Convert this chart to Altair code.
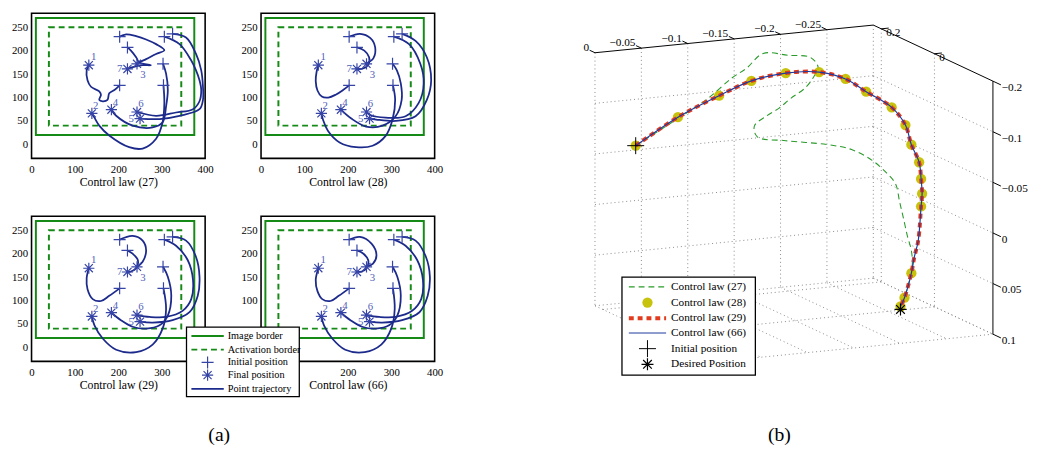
import altair as alt
import pandas as pd

FONT = "Liberation Serif"
GREEN = "#168a16"
NAVY = "#1c2a8c"
MARK_BLUE = "#3544a6"
LABEL_BLUE = "#5262b8"

# ===================== (a) image-plane trajectories =====================
IMAGE_BORDER_X = [10, 375]
IMAGE_BORDER_Y = [20, 270]
ACTIVATION_BORDER_X = [40, 345]
ACTIVATION_BORDER_Y = [40, 250]

POINT_LABELS = ["1", "2", "3", "4", "5", "6", "7"]
INITIAL_X = [203, 304, 203, 303, 325, 306, 221]
INITIAL_Y = [126, 126, 230, 172, 236, 230, 207]
FINAL_X = [132, 139, 243, 184, 250, 243, 221]
FINAL_Y = [169, 66, 172, 74, 55, 69, 161]

A_X_TICKS = [0, 100, 200, 300, 400]
A_Y_TICKS = [0, 50, 100, 150, 200, 250]
# in panel (66) the legend box hides the lowest tick labels
A_X_TICKS_66 = [200, 300, 400]
A_Y_TICKS_66 = [100, 150, 200, 250]

LAW27_X = [
    [203, 191, 179, 175, 164, 156, 160, 156, 137, 129, 127, 132],
    [304, 306, 302, 287, 256, 225, 179, 156, 145, 139],
    [203, 218, 241, 264, 287, 306, 287, 264, 248, 243],
    [303, 310, 314, 310, 302, 279, 233, 195, 184],
    [325, 356, 379, 391, 395, 395, 387, 341, 295, 250],
    [306, 341, 368, 379, 387, 391, 387, 372, 333, 287, 243],
    [221, 229, 241, 248, 275, 256, 233, 221],
]
LAW27_Y = [
    [126, 116, 109, 95, 92, 95, 106, 113, 123, 137, 158, 169],
    [126, 88, 47, 12, -9, -6, 19, 40, 57, 66],
    [230, 235, 231, 224, 214, 201, 193, 182, 175, 172],
    [172, 151, 116, 81, 47, 36, 40, 61, 74],
    [236, 228, 193, 158, 123, 95, 75, 61, 54, 55],
    [230, 214, 179, 158, 137, 116, 92, 75, 68, 61, 69],
    [207, 200, 186, 175, 169, 169, 165, 161],
]
LAW28_X = [
    [203, 189, 172, 155, 140, 130, 126, 128, 132],
    [304, 309, 303, 287, 257, 219, 181, 154, 143, 139],
    [203, 228, 252, 263, 259, 243],
    [303, 313, 322, 324, 310, 280, 242, 208, 184],
    [325, 356, 382, 392, 382, 356, 310, 265, 250],
    [306, 341, 367, 375, 363, 333, 287, 253, 243],
    [221, 238, 249, 247, 235, 221],
]
LAW28_Y = [
    [126, 116, 106, 100, 102, 115, 135, 155, 169],
    [126, 95, 53, 18, -3, -6, 4, 29, 52, 66],
    [230, 236, 227, 207, 184, 172],
    [172, 158, 130, 95, 60, 40, 38, 55, 74],
    [236, 221, 186, 137, 95, 60, 50, 53, 55],
    [230, 214, 172, 130, 88, 60, 57, 62, 69],
    [207, 200, 186, 170, 162, 161],
]
LAW29_X = [
    [203, 179, 160, 141, 129, 127, 132],
    [304, 310, 302, 279, 241, 195, 164, 145, 139],
    [203, 233, 256, 264, 256, 243],
    [303, 314, 322, 314, 295, 264, 233, 206, 184],
    [325, 356, 379, 387, 383, 364, 325, 279, 250],
    [306, 333, 360, 372, 368, 348, 310, 272, 243],
    [221, 233, 245, 241, 229, 221],
]
LAW29_Y = [
    [126, 110, 99, 103, 124, 148, 169],
    [126, 82, 40, 6, -10, -5, 19, 47, 66],
    [230, 238, 228, 207, 183, 172],
    [172, 151, 110, 68, 47, 40, 44, 58, 74],
    [236, 228, 193, 151, 110, 75, 58, 53, 55],
    [230, 217, 186, 144, 103, 78, 65, 65, 69],
    [207, 200, 186, 169, 162, 161],
]
LAW66_X = [
    [203, 179, 160, 141, 130, 126, 132],
    [304, 308, 300, 277, 239, 194, 164, 145, 139],
    [203, 228, 255, 266, 258, 243],
    [303, 314, 322, 314, 295, 264, 233, 206, 184],
    [325, 356, 380, 389, 384, 365, 325, 279, 250],
    [306, 333, 360, 373, 369, 348, 310, 272, 243],
    [221, 236, 247, 243, 232, 221],
]
LAW66_Y = [
    [126, 110, 99, 103, 120, 144, 169],
    [126, 82, 40, 6, -10, -5, 19, 47, 66],
    [230, 236, 221, 197, 179, 172],
    [172, 151, 110, 68, 47, 40, 44, 58, 74],
    [236, 228, 193, 151, 110, 75, 58, 53, 55],
    [230, 217, 186, 144, 103, 78, 65, 65, 69],
    [207, 200, 186, 169, 162, 161],
]

LEGEND_A_LABELS = ["Image border", "Activation border", "Initial position",
                   "Final position", "Point trajectory"]

# ===================== (b) 3-D camera trajectories =====================
B_XLIM = [-0.3, 0.0]
B_YLIM = [-0.22, 0.23]
B_ZLIM = [-0.15, 0.1]
B_X_TICKS = [0, -0.05, -0.1, -0.15, -0.2, -0.25]
B_X_LABELS = ["0", "\u22120.05", "\u22120.1", "\u22120.15", "\u22120.2", "\u22120.25"]
B_Y_TICKS = [0.2, 0]
B_Y_LABELS = ["0.2", "0"]
B_Z_TICKS = [-0.15, -0.1, -0.05, 0, 0.05, 0.1]
B_Z_LABELS = ["\u22120.2", "\u22120.1", "\u22120.05", "0", "0.05", "0.1"]
B_X_GRID = [0, -0.05, -0.1, -0.15, -0.2, -0.25, -0.3]
B_Y_GRID = [0.2, 0]
B_Z_GRID = [-0.1, -0.05, 0, 0.05, 0.1]

PATH_DEPTH = 0.0  # y of the recorded trajectories
LAW27_PX = [0.0220, -0.0076, -0.0372, -0.0584, -0.0816, -0.0975, -0.1154, -0.1429,
            -0.1662, -0.1746, -0.1704, -0.1609, -0.1450, -0.1323, -0.1186, -0.1059,
            -0.1091, -0.1397, -0.1852, -0.2106, -0.2328, -0.2486, -0.2581, -0.2624,
            -0.2666, -0.2708, -0.2751, -0.2761, -0.2719, -0.2666, -0.2634]
LAW27_PZ = [-0.0885, -0.1033, -0.1180, -0.1297, -0.1459, -0.1542, -0.1671, -0.1627,
            -0.1586, -0.1482, -0.1398, -0.1291, -0.1199, -0.1113, -0.1048, -0.0962,
            -0.0853, -0.0787, -0.0706, -0.0635, -0.0508, -0.0367, -0.0252, -0.0074,
            0.0095, 0.0273, 0.0422, 0.0569, 0.0759, 0.0899, 0.0993]
LAW66_PX = [0.0220, -0.0235, -0.0679, -0.1027, -0.1397, -0.1757, -0.2042, -0.2264,
            -0.2539, -0.2687, -0.2751, -0.2835, -0.2856, -0.2867, -0.2856, -0.2825,
            -0.2782, -0.2751, -0.2677, -0.2634]
LAW66_PZ = [-0.0885, -0.1125, -0.1297, -0.1411, -0.1455, -0.1432, -0.1338, -0.1192,
            -0.1012, -0.0824, -0.0624, -0.0443, -0.0276, -0.0130, -0.0005, 0.0332,
            0.0493, 0.0645, 0.0881, 0.0964]
LAW29_PX = LAW66_PX
LAW29_PZ = LAW66_PZ
LAW28_PX = [0.0220, -0.0235, -0.0679, -0.1027, -0.1397, -0.1757, -0.2042, -0.2264,
            -0.2539, -0.2687, -0.2751, -0.2835, -0.2856, -0.2867, -0.2856, -0.2751,
            -0.2677, -0.2634]
LAW28_PZ = [-0.0885, -0.1125, -0.1297, -0.1411, -0.1455, -0.1432, -0.1338, -0.1192,
            -0.1012, -0.0824, -0.0624, -0.0443, -0.0276, -0.0130, -0.0005, 0.0645,
            0.0881, 0.0964]
START_XYZ = [0.0220, 0.0, -0.0885]
DESIRED_XYZ = [-0.2634, 0.0, 0.0993]

LEGEND_B_LABELS = ["Control law (27)", "Control law (28)", "Control law (29)",
                   "Control law (66)", "Initial position", "Desired Position"]

# camera used to draw the 3-D view (affine)
CAM_ORIGIN = (657.8, 232.3)
CAM_X = (-946.0, 94.0)
CAM_Y = (-271.0, -127.0)
CAM_Z = (0.0, 1032.0)

PLUS = "M-1,0L1,0M0,-1L0,1"
STAR = "M-1,0L1,0M0,-1L0,1M-0.72,-0.72L0.72,0.72M-0.72,0.72L0.72,-0.72"

# ---------------------------------------------------------------------------
PW, PH = 177, 148
X_DOM, Y_DOM = [0, 400], [-30, 280]
LABEL_DX = [5, 4, 6, 4, -9, 4, -8]
LABEL_DY = [-8, -8, 11, -7, 0, -8, 0]


def traj_frame(xs_list, ys_list):
    rows = []
    for k, (xs, ys) in enumerate(zip(xs_list, ys_list)):
        for i, (x, y) in enumerate(zip(xs, ys)):
            rows.append({"pt": k + 1, "i": i, "x": x, "y": y})
    return pd.DataFrame(rows)


def panel(law, xs_list, ys_list, xt, yt, legend=False):
    xsc = alt.Scale(domain=X_DOM, nice=False, zero=False)
    ysc = alt.Scale(domain=Y_DOM, nice=False, zero=False)
    xax = alt.Axis(values=xt, grid=False, ticks=False, domain=False,
                   labelFlush=False, labelOverlap=False, labelFont=FONT,
                   labelFontSize=11, labelColor="black", labelPadding=5,
                   title=f"Control law ({law})", titleFont=FONT, titleFontSize=12,
                   titleFontWeight="normal", titleColor="black", titlePadding=3)
    yax = alt.Axis(values=yt, grid=False, ticks=False, domain=False,
                   labelOverlap=False, labelFont=FONT, labelFontSize=11,
                   labelColor="black", labelPadding=4, title=None)

    def X(f):
        return alt.X(f, scale=xsc, axis=xax)

    def Y(f):
        return alt.Y(f, scale=ysc, axis=yax)

    img = pd.DataFrame({"x": [IMAGE_BORDER_X[0]], "x2": [IMAGE_BORDER_X[1]],
                        "y": [IMAGE_BORDER_Y[0]], "y2": [IMAGE_BORDER_Y[1]]})
    act = pd.DataFrame({"x": [ACTIVATION_BORDER_X[0]], "x2": [ACTIVATION_BORDER_X[1]],
                        "y": [ACTIVATION_BORDER_Y[0]], "y2": [ACTIVATION_BORDER_Y[1]]})
    layers = [
        alt.Chart(img).mark_rect(fillOpacity=0, stroke=GREEN, strokeWidth=2).encode(
            x=X("x:Q"), x2="x2:Q", y=Y("y:Q"), y2="y2:Q"),
        alt.Chart(act).mark_rect(fillOpacity=0, stroke=GREEN, strokeWidth=2,
                                 strokeDash=[6, 4]).encode(
            x=X("x:Q"), x2="x2:Q", y=Y("y:Q"), y2="y2:Q"),
        alt.Chart(traj_frame(xs_list, ys_list)).mark_line(
            interpolate="catmull-rom", color=NAVY, strokeWidth=1.8).encode(
            x=X("x:Q"), y=Y("y:Q"), detail="pt:N", order="i:Q"),
    ]
    pts = pd.DataFrame({"label": POINT_LABELS, "ix": INITIAL_X, "iy": INITIAL_Y,
                        "fx": FINAL_X, "fy": FINAL_Y})
    pts["lx"] = [fx + dx * (X_DOM[1] - X_DOM[0]) / PW for fx, dx in zip(FINAL_X, LABEL_DX)]
    pts["ly"] = [fy - dy * (Y_DOM[1] - Y_DOM[0]) / PH for fy, dy in zip(FINAL_Y, LABEL_DY)]
    layers += [
        alt.Chart(pts).mark_point(shape=PLUS, size=150, filled=False, color=MARK_BLUE,
                                  strokeWidth=1.2, opacity=1).encode(
            x=X("ix:Q"), y=Y("iy:Q")),
        alt.Chart(pts).mark_point(shape=STAR, size=130, filled=False, color=MARK_BLUE,
                                  strokeWidth=1.2, opacity=1).encode(
            x=X("fx:Q"), y=Y("fy:Q")),
        alt.Chart(pts).mark_text(font=FONT, fontSize=11, color=LABEL_BLUE).encode(
            x=X("lx:Q"), y=Y("ly:Q"), text="label:N"),
    ]
    if legend:
        one = pd.DataFrame({"k": [0]})
        ly = [122, 136, 149, 162, 176]
        lx0, lx1, lxm, ltx = -71, -38, -54.5, -34
        layers += [
            alt.Chart(one).mark_rect(fill="white", stroke="black", strokeWidth=1.3).encode(
                x=alt.value(-76), x2=alt.value(39), y=alt.value(113), y2=alt.value(184)),
            alt.Chart(one).mark_rule(color=GREEN, strokeWidth=2).encode(
                x=alt.value(lx0), x2=alt.value(lx1), y=alt.value(ly[0])),
            alt.Chart(one).mark_rule(color=GREEN, strokeWidth=2, strokeDash=[6, 4]).encode(
                x=alt.value(lx0), x2=alt.value(lx1), y=alt.value(ly[1])),
            alt.Chart(one).mark_point(shape=PLUS, size=150, filled=False, color=MARK_BLUE,
                                      strokeWidth=1.2, opacity=1).encode(
                x=alt.value(lxm), y=alt.value(ly[2])),
            alt.Chart(one).mark_point(shape=STAR, size=130, filled=False, color=MARK_BLUE,
                                      strokeWidth=1.2, opacity=1).encode(
                x=alt.value(lxm), y=alt.value(ly[3])),
            alt.Chart(one).mark_rule(color=NAVY, strokeWidth=2).encode(
                x=alt.value(lx0), x2=alt.value(lx1), y=alt.value(ly[4])),
        ]
        for lab, yy in zip(LEGEND_A_LABELS, ly):
            layers.append(alt.Chart(one).mark_text(
                font=FONT, fontSize=10.5, align="left", baseline="middle", color="black").encode(
                x=alt.value(ltx), y=alt.value(yy), text=alt.value(lab)))
    return alt.layer(*layers).properties(width=PW, height=PH)


p27 = panel("27", LAW27_X, LAW27_Y, A_X_TICKS, A_Y_TICKS)
p28 = panel("28", LAW28_X, LAW28_Y, A_X_TICKS, A_Y_TICKS)
p29 = panel("29", LAW29_X, LAW29_Y, A_X_TICKS, A_Y_TICKS)
p66 = panel("66", LAW66_X, LAW66_Y, A_X_TICKS_66, A_Y_TICKS_66, legend=True)

left = alt.concat(
    p27, p28, p29, p66, columns=2, spacing={"row": 59, "column": 57}, bounds="flush",
    title=alt.TitleParams("(a)", orient="bottom", anchor="middle", font=FONT, fontSize=20,
                          fontWeight="normal", color="black", offset=28, dx=-8),
)

# ------------------------------- 3-D view ---------------------------------
L3, T3, W3, H3 = 560, 8, 441, 400


def project(x, y, z):
    sx = CAM_ORIGIN[0] + CAM_X[0] * x + CAM_Y[0] * y + CAM_Z[0] * z
    sy = CAM_ORIGIN[1] + CAM_X[1] * x + CAM_Y[1] * y + CAM_Z[1] * z
    return sx - L3, sy - T3


XMIN, XMAX = B_XLIM
YMIN, YMAX = B_YLIM
ZMIN, ZMAX = B_ZLIM


def seg_frame(segs):
    rows = []
    for a, b in segs:
        u1, v1 = project(*a)
        u2, v2 = project(*b)
        rows.append({"u1": u1, "v1": v1, "u2": u2, "v2": v2})
    return pd.DataFrame(rows)


grid = []
for x in B_X_GRID:
    grid.append(((x, YMAX, ZMIN), (x, YMAX, ZMAX)))
    grid.append(((x, YMAX, ZMAX), (x, YMIN, ZMAX)))
for z in B_Z_GRID:
    grid.append(((XMAX, YMAX, z), (XMIN, YMAX, z)))
    grid.append(((XMIN, YMAX, z), (XMIN, YMIN, z)))
for y in B_Y_GRID:
    grid.append(((XMIN, y, ZMIN), (XMIN, y, ZMAX)))
for y in B_Y_GRID + [YMIN]:
    grid.append(((XMAX, y, ZMAX), (XMIN, y, ZMAX)))

axes_lines = [((XMAX, YMAX, ZMIN), (XMIN, YMAX, ZMIN)),
              ((XMIN, YMAX, ZMIN), (XMIN, YMIN, ZMIN)),
              ((XMIN, YMIN, ZMIN), (XMIN, YMIN, ZMAX))]
ticks = []
for x in B_X_TICKS:
    ticks.append(((x, YMAX, ZMIN), (x, YMAX + 0.02, ZMIN)))
for y in B_Y_TICKS:
    ticks.append(((XMIN, y, ZMIN), (XMIN - 0.008, y, ZMIN)))
for z in B_Z_TICKS:
    ticks.append(((XMIN, YMIN, z), (XMIN, YMIN - 0.03, z)))

XS3 = alt.Scale(domain=[0, W3], nice=False, zero=False)
YS3 = alt.Scale(domain=[0, H3], nice=False, zero=False, reverse=True)


def U(f):
    return alt.X(f, scale=XS3, axis=None)


def V(f):
    return alt.Y(f, scale=YS3, axis=None)


def rules(df, **kw):
    return alt.Chart(df).mark_rule(**kw).encode(
        x=U("u1:Q"), y=V("v1:Q"), x2="u2:Q", y2="v2:Q")


def label_frame(vals, labels, fn):
    rows = []
    for v, t in zip(vals, labels):
        u, w = project(*fn(v))
        rows.append({"u": u, "v": w, "t": t})
    return pd.DataFrame(rows)


def path_frame(xs, zs):
    rows = []
    for i, (x, z) in enumerate(zip(xs, zs)):
        u, v = project(x, PATH_DEPTH, z)
        rows.append({"i": i, "u": u, "v": v})
    return pd.DataFrame(rows)


xl = label_frame(B_X_TICKS, B_X_LABELS, lambda v: (v, YMAX, ZMIN))
yl = label_frame(B_Y_TICKS, B_Y_LABELS, lambda v: (XMIN, v, ZMIN))
zl = label_frame(B_Z_TICKS, B_Z_LABELS, lambda v: (XMIN, YMIN, v))

C27, C28, C29, C66 = "#2a9a2a", "#c4c000", "#e23a1c", "#1f3a9e"
su, sv = project(*START_XYZ)
du, dv = project(*DESIRED_XYZ)
ends = pd.DataFrame({"u": [su], "v": [sv], "du": [du], "dv": [dv]})

b_layers = [
    rules(seg_frame(grid), color="#8a8a8a", strokeWidth=1, strokeDash=[1, 3]),
    rules(seg_frame(axes_lines), color="black", strokeWidth=1),
    rules(seg_frame(ticks), color="black", strokeWidth=1),
    alt.Chart(xl).mark_text(font=FONT, fontSize=11.5, align="right", baseline="middle",
                            dx=-6, dy=-5, color="black").encode(x=U("u:Q"), y=V("v:Q"), text="t:N"),
    alt.Chart(yl).mark_text(font=FONT, fontSize=11.5, align="left", baseline="middle",
                            dx=5, dy=4, color="black").encode(x=U("u:Q"), y=V("v:Q"), text="t:N"),
    alt.Chart(zl).mark_text(font=FONT, fontSize=11.5, align="left", baseline="middle",
                            dx=9, dy=7, color="black").encode(x=U("u:Q"), y=V("v:Q"), text="t:N"),
    alt.Chart(path_frame(LAW27_PX, LAW27_PZ)).mark_line(
        interpolate="catmull-rom", color=C27, strokeWidth=1.1, strokeDash=[6, 4]).encode(
        x=U("u:Q"), y=V("v:Q"), order="i:Q"),
    alt.Chart(path_frame(LAW28_PX, LAW28_PZ)).mark_circle(
        color=C28, size=110, opacity=0.95).encode(x=U("u:Q"), y=V("v:Q")),
    alt.Chart(path_frame(LAW29_PX, LAW29_PZ)).mark_line(
        interpolate="catmull-rom", color=C29, strokeWidth=4, strokeDash=[5, 4]).encode(
        x=U("u:Q"), y=V("v:Q"), order="i:Q"),
    alt.Chart(path_frame(LAW66_PX, LAW66_PZ)).mark_line(
        interpolate="catmull-rom", color=C66, strokeWidth=1.2).encode(
        x=U("u:Q"), y=V("v:Q"), order="i:Q"),
    alt.Chart(ends).mark_point(shape=PLUS, size=300, filled=False, color="black",
                               strokeWidth=1, opacity=1).encode(x=U("u:Q"), y=V("v:Q")),
    alt.Chart(ends).mark_point(shape=STAR, size=150, filled=False, color="black",
                               strokeWidth=1.2, opacity=1).encode(x=U("du:Q"), y=V("dv:Q")),
]

one = pd.DataFrame({"k": [0]})
bly = [279, 295, 311, 326, 342, 358]
bx0, bx1, bxm, btx = 70, 108, 89, 113
b_layers += [
    alt.Chart(one).mark_rect(fill="white", stroke="black", strokeWidth=1.3).encode(
        x=alt.value(63), x2=alt.value(199), y=alt.value(269), y2=alt.value(369)),
    alt.Chart(one).mark_rule(color=C27, strokeWidth=1.1, strokeDash=[6, 4]).encode(
        x=alt.value(bx0), x2=alt.value(bx1), y=alt.value(bly[0])),
    alt.Chart(one).mark_circle(color=C28, size=110, opacity=0.95).encode(
        x=alt.value(bxm), y=alt.value(bly[1])),
    alt.Chart(one).mark_rule(color=C29, strokeWidth=4, strokeDash=[5, 4]).encode(
        x=alt.value(bx0), x2=alt.value(bx1), y=alt.value(bly[2])),
    alt.Chart(one).mark_rule(color=C66, strokeWidth=1.2).encode(
        x=alt.value(bx0), x2=alt.value(bx1), y=alt.value(bly[3])),
    alt.Chart(one).mark_point(shape=PLUS, size=300, filled=False, color="black",
                              strokeWidth=1, opacity=1).encode(
        x=alt.value(bxm), y=alt.value(bly[4])),
    alt.Chart(one).mark_point(shape=STAR, size=150, filled=False, color="black",
                              strokeWidth=1.2, opacity=1).encode(
        x=alt.value(bxm), y=alt.value(bly[5])),
]
for lab, yy in zip(LEGEND_B_LABELS, bly):
    b_layers.append(alt.Chart(one).mark_text(
        font=FONT, fontSize=11.5, align="left", baseline="middle", color="black").encode(
        x=alt.value(btx), y=alt.value(yy), text=alt.value(lab)))

right = alt.layer(*b_layers).properties(
    width=W3, height=H3, view=alt.ViewBackground(stroke="transparent"),
    title=alt.TitleParams("(b)", orient="bottom", anchor="middle", font=FONT, fontSize=20,
                          fontWeight="normal", color="black", offset=20, dx=3),
)

chart = alt.hconcat(left, right, spacing=117).properties(
    padding={"left": 2, "top": 0, "right": 0, "bottom": 0}
).configure(
    font=FONT, view=alt.ViewConfig(stroke="black", strokeWidth=1.6)
)

chart.save("out.html", embed_options={"renderer": "svg", "actions": False})
